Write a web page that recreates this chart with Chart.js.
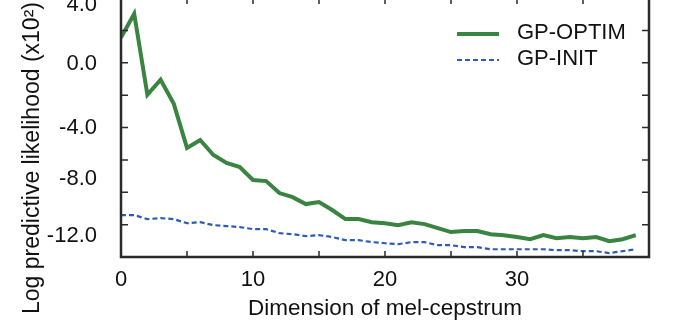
<!DOCTYPE html>
<html>
<head>
<meta charset="utf-8">
<script src="https://cdn.jsdelivr.net/npm/chart.js@4.4.0/dist/chart.umd.min.js"></script>
<style>
    html, body { margin: 0; padding: 0; background: #fff; overflow: hidden; }
    #wrap { position: absolute; left: 0; top: -2px; width: 676px; height: 331px; }
</style>
</head>
<body>
<div id="wrap"><canvas id="chart1"></canvas></div>
<script>
// Dimension of the mel-cepstrum (x values)
var dims = [0, 1, 2, 3, 4, 5, 6, 7, 8, 9, 10, 11, 12, 13, 14, 15, 16, 17, 18, 19,
            20, 21, 22, 23, 24, 25, 26, 27, 28, 29, 30, 31, 32, 33, 34, 35, 36, 37, 38, 39];

// Log predictive likelihood (x10^2)
var gpOptim = [1.55, 3.03, -1.98, -1.05, -2.54, -5.26, -4.77, -5.70, -6.19, -6.44,
               -7.24, -7.31, -8.05, -8.30, -8.73, -8.61, -9.10, -9.66, -9.66, -9.85,
               -9.91, -10.03, -9.85, -9.97, -10.22, -10.46, -10.40, -10.40, -10.59, -10.65,
               -10.77, -10.90, -10.65, -10.84, -10.77, -10.84, -10.77, -11.02, -10.90, -10.65];
var gpInit = [-9.41, -9.41, -9.66, -9.60, -9.66, -9.91, -9.85, -10.03, -10.09, -10.15,
              -10.28, -10.28, -10.53, -10.59, -10.71, -10.65, -10.77, -10.96, -10.96, -11.08,
              -11.15, -11.21, -11.08, -11.08, -11.27, -11.27, -11.39, -11.39, -11.52, -11.52,
              -11.52, -11.52, -11.52, -11.58, -11.58, -11.64, -11.64, -11.76, -11.64, -11.52];

// axis ticks and labels
var xTickLabels = [0, 10, 20, 30];
var xTickMarks = [5, 10, 15, 20, 25, 30, 35];
var yLabelTexts = ['4.0', '0.0', '-4.0', '-8.0', '-12.0'];
var yLabelValues = [3.6, -0.05, -4.0, -7.2, -10.7];   // where the labels sit in the figure
var yTickMarks = [-10, -8, -6, -4, -2, 0, 2];

var seriesNames = ['GP-OPTIM', 'GP-INIT'];

var FONT = '"Liberation Sans", Arial, sans-serif';

// box round the plot with short inward ticks on all four sides
var frameTicks = {
    id: 'frameTicks',
    afterDatasetsDraw: function (chart) {
        var ctx = chart.ctx;
        var a = chart.chartArea;
        var xs = chart.scales.x;
        var ys = chart.scales.y;
        ctx.save();
        ctx.strokeStyle = '#2a2a2a';
        ctx.lineWidth = 1.5;
        ctx.beginPath();
        xTickMarks.forEach(function (v) {
            var px = xs.getPixelForValue(v);
            ctx.moveTo(px, a.bottom); ctx.lineTo(px, a.bottom - 6);
            ctx.moveTo(px, a.top); ctx.lineTo(px, a.top + 6);
        });
        yTickMarks.forEach(function (v) {
            var py = ys.getPixelForValue(v);
            ctx.moveTo(a.left, py); ctx.lineTo(a.left + 7, py);
            ctx.moveTo(a.right, py); ctx.lineTo(a.right - 7, py);
        });
        ctx.stroke();
        ctx.lineWidth = 2.5;
        ctx.strokeRect(a.left, a.top, a.right - a.left, a.bottom - a.top);
        ctx.restore();
    }
};

// legend inside the plot, upper right
var innerLegend = {
    id: 'innerLegend',
    afterDraw: function (chart) {
        var ctx = chart.ctx;
        var a = chart.chartArea;
        ctx.save();
        ctx.font = '22px ' + FONT;
        ctx.textBaseline = 'middle';
        ctx.fillStyle = '#111';
        chart.data.datasets.forEach(function (ds, i) {
            var y = a.top + 36 + i * 26;
            ctx.strokeStyle = ds.borderColor;
            ctx.lineWidth = ds.borderWidth;
            ctx.setLineDash(ds.borderDash || []);
            ctx.beginPath();
            ctx.moveTo(a.left + 336, y);
            ctx.lineTo(a.left + 378, y);
            ctx.stroke();
            ctx.fillText(ds.label, a.left + 396, y - 1);
        });
        ctx.restore();
    }
};

// rotated y axis title
var yTitle = {
    id: 'yTitle',
    afterDraw: function (chart) {
        var ctx = chart.ctx;
        ctx.save();
        ctx.font = '23px ' + FONT;
        ctx.fillStyle = '#111';
        ctx.textAlign = 'center';
        ctx.textBaseline = 'middle';
        ctx.translate(33, chart.chartArea.top + 160);
        ctx.rotate(-Math.PI / 2);
        ctx.fillText('Log predictive likelihood (x10\u00B2)', 0, 0);
        ctx.restore();
    }
};

function makeChart() {
    var ctx = document.getElementById('chart1').getContext('2d');
    new Chart(ctx, {
        type: 'line',
        data: {
            datasets: [{
                label: seriesNames[0],
                data: dims.map(function (d, i) { return { x: d, y: gpOptim[i] }; }),
                borderColor: '#3a8441',
                borderWidth: 4,
                pointRadius: 0,
                tension: 0,
                fill: false
            }, {
                label: seriesNames[1],
                data: dims.map(function (d, i) { return { x: d, y: gpInit[i] }; }),
                borderColor: '#2b5db4',
                borderWidth: 2.2,
                borderDash: [5, 3],
                pointRadius: 0,
                tension: 0,
                fill: false
            }]
        },
        options: {
            responsive: true,
            maintainAspectRatio: false,
            animation: false,
            layout: { padding: { top: 0, right: 27, bottom: 0, left: 0 } },
            plugins: {
                legend: { display: false },
                tooltip: { enabled: false }
            },
            scales: {
                x: {
                    type: 'linear',
                    min: 0,
                    max: 40,
                    grid: { display: false, drawTicks: false },
                    border: { display: false },
                    afterBuildTicks: function (s) {
                        s.ticks = xTickLabels.map(function (v) { return { value: v }; });
                    },
                    afterFit: function (s) {
                        s.height = 72;
                        s.paddingLeft = 0; s.paddingRight = 0;
                    },
                    ticks: {
                        padding: 10,
                        maxRotation: 0,
                        color: '#111',
                        font: { family: FONT, size: 22 },
                        callback: function (value) { return String(value); }
                    },
                    title: {
                        display: true,
                        text: 'Dimension of mel-cepstrum',
                        color: '#111',
                        font: { family: FONT, size: 22.5 },
                        padding: { top: 0, bottom: 7 }
                    }
                },
                y: {
                    type: 'linear',
                    min: -12,
                    max: 4,
                    grid: { display: false, drawTicks: false },
                    border: { display: false },
                    afterBuildTicks: function (s) {
                        s.ticks = yLabelValues.map(function (v) { return { value: v }; });
                    },
                    afterFit: function (s) {
                        s.width = 121;
                        s.paddingTop = 0; s.paddingBottom = 0;
                    },
                    ticks: {
                        padding: 24,
                        color: '#111',
                        font: { family: FONT, size: 22 },
                        callback: function (value, index) { return yLabelTexts[index]; }
                    }
                }
            }
        },
        plugins: [frameTicks, innerLegend, yTitle]
    });
}

document.addEventListener('DOMContentLoaded', makeChart);
</script>
</body>
</html>
